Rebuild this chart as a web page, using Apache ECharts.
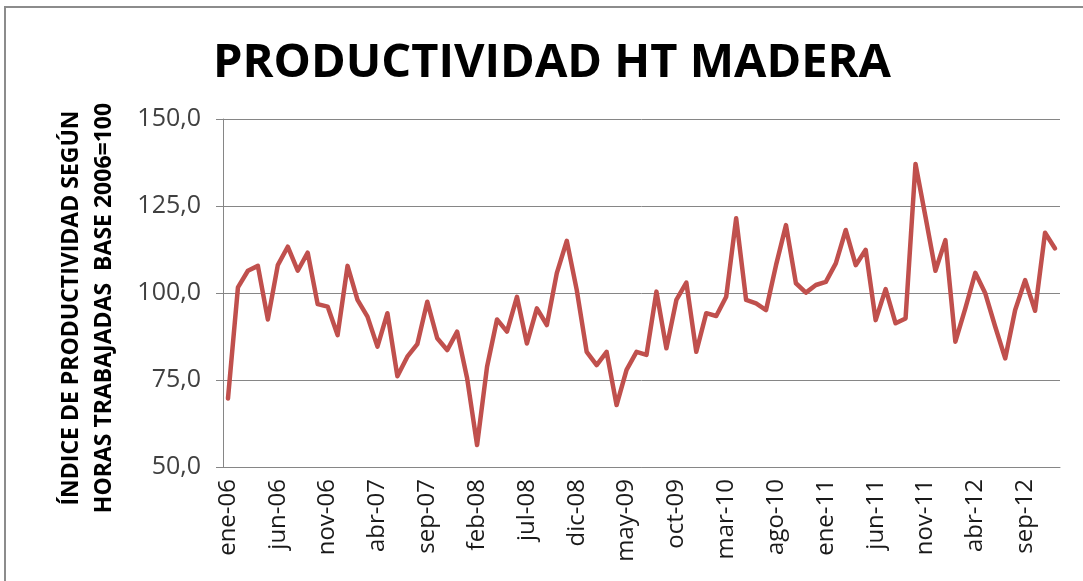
<!DOCTYPE html>
<html>
<head>
<meta charset="utf-8">
<title>Productividad HT Madera</title>
<script src="https://cdn.jsdelivr.net/npm/echarts@6/dist/echarts.min.js"></script>
<style>
  html, body { margin: 0; padding: 0; background: #fff; }
  #productividad_con { width: 1083px; height: 581px; }
</style>
</head>
<body>
<div id="productividad_con"></div>
<script>
// meses ene-06 .. dic-12
var monthNames = ["ene", "feb", "mar", "abr", "may", "jun", "jul", "ago", "sep", "oct", "nov", "dic"];
var years = ["06", "07", "08", "09", "10", "11", "12"];

// indice de productividad
var productividad = [
  69.7, 101.6, 106.4, 107.8, 92.4, 108.0, 113.3, 106.4, 111.6, 96.8, 96.1, 87.9,
  107.8, 98.0, 93.2, 84.6, 94.2, 76.1, 81.7, 85.3, 97.5, 87.0, 83.6, 88.9,
  75.5, 56.3, 78.8, 92.4, 88.9, 98.9, 85.5, 95.6, 90.8, 105.7, 115.0, 100.9,
  83.1, 79.3, 83.1, 67.8, 77.9, 83.1, 82.2, 100.4, 84.1, 98.0, 103.0, 83.1,
  94.2, 93.4, 98.9, 121.5, 98.0, 97.0, 95.1, 108.0, 119.5, 102.8, 100.1, 102.3,
  103.2, 108.5, 118.1, 108.0, 112.4, 92.2, 101.1, 91.3, 92.7, 137.1, 121.9, 106.4,
  115.2, 86.0, 95.6, 105.8, 99.9, 90.3, 81.2, 95.1, 103.7, 94.9, 117.3, 112.8
];

var yTicks = [50, 75, 100, 125, 150];

var categories = [];
years.forEach(function(y) {
  monthNames.forEach(function(m) {
    categories.push(m + "-" + y);
  });
});

var chart = echarts.init(document.getElementById("productividad_con"));

var option = {
  animation: false,
  title: {
    text: "PRODUCTIVIDAD HT MADERA",
    left: 547,
    textAlign: "center",
    top: 35,
    textStyle: {
      fontFamily: "Open Sans",
      fontWeight: "bold",
      fontSize: 47,
      color: "#000"
    }
  },
  graphic: [
    {
      type: "rect",
      shape: { x: 5, y: 7, width: 1200, height: 700 },
      style: { fill: "none", stroke: "#8c8c8c", lineWidth: 2 }
    }
  ],
  grid: {
    left: 223,
    right: 23,
    top: 119,
    bottom: 114
  },
  xAxis: {
    type: "category",
    data: categories,
    boundaryGap: true,
    axisLine: { lineStyle: { color: "#868686", width: 1 } },
    axisTick: { interval: 4, length: 6, lineStyle: { color: "#868686" } },
    axisLabel: {
      interval: 4,
      rotate: 90,
      margin: 12,
      fontFamily: "Open Sans",
      fontSize: 24,
      color: "#1a1a1a"
    },
    splitLine: { show: false }
  },
  yAxis: {
    type: "value",
    min: yTicks[0],
    max: yTicks[yTicks.length - 1],
    interval: 25,
    name: "ÍNDICE DE PRODUCTIVIDAD SEGÚN\nHORAS TRABAJADAS  BASE 2006=100",
    nameLocation: "middle",
    nameRotate: 90,
    nameGap: 102,
    nameTextStyle: {
      fontFamily: "Open Sans",
      fontWeight: "bold",
      fontSize: 23,
      lineHeight: 33,
      color: "#000",
      padding: [0, 30, 0, 0]
    },
    axisLine: { show: true, lineStyle: { color: "#868686", width: 1 } },
    axisTick: { show: true, length: 7, lineStyle: { color: "#868686" } },
    axisLabel: {
      margin: 22,
      fontFamily: "Open Sans",
      fontSize: 25,
      color: "#404040",
      formatter: function(v) {
        return v.toFixed(1).replace(".", ",");
      }
    },
    splitLine: { lineStyle: { color: "#868686", width: 1 } }
  },
  series: [
    {
      name: "Productividad",
      type: "line",
      data: productividad,
      symbol: "none",
      lineStyle: { color: "#C0504D", width: 4.5, join: "round", cap: "round" },
      itemStyle: { color: "#C0504D" }
    }
  ]
};

chart.setOption(option);

window.addEventListener("resize", function() {
  chart.resize();
});
</script>
</body>
</html>
